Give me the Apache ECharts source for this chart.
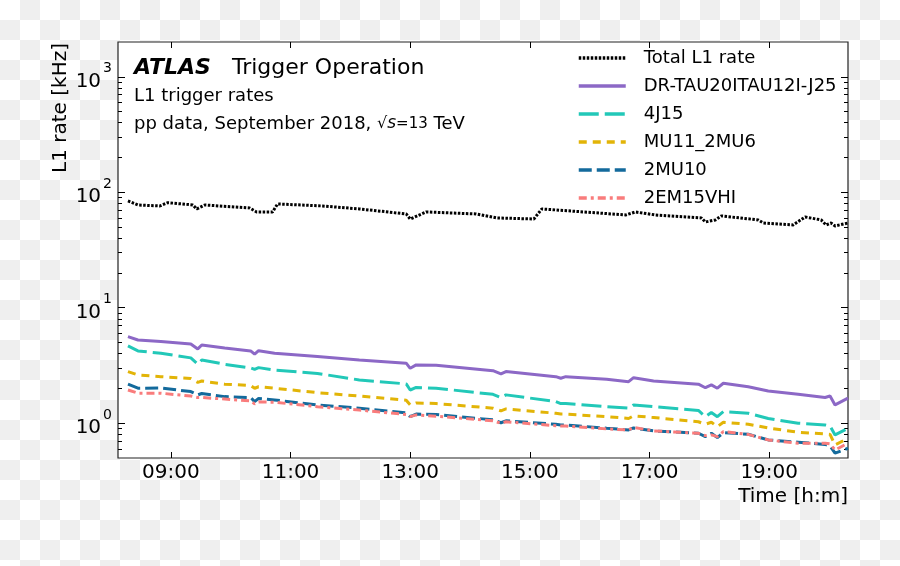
<!DOCTYPE html>
<html>
<head>
<meta charset="UTF-8">
<title>ATLAS L1 trigger rates</title>
<style>
	html, body {
		margin: 0;
		padding: 0;
	}
	body {
		background-color: #fff;
		background-image: conic-gradient(#efefef 25%, #fff 0 50%, #efefef 0 75%, #fff 0);
		background-size: 40px 40px;
	}
	#main {
		width: 900px;
		height: 566px;
	}
</style>
</head>
<body>
<div id="main"></div>
<script src="https://cdn.jsdelivr.net/npm/echarts@6/dist/echarts.min.js"></script>
<script>
	// total L1 rate (kHz)
	var totalTimes = ['08:17', '08:27', '08:49', '08:57', '09:22', '09:26', '09:34', '10:19', '10:26', '10:42',
		'10:47', '11:32', '12:09', '12:56', '13:00', '13:16', '14:06', '14:27', '15:04', '15:12',
		'15:26', '16:36', '16:46', '17:06', '17:52', '17:56', '18:06', '18:12', '18:49', '18:54',
		'19:24', '19:36', '19:52', '19:57', '20:02', '20:06', '20:19'];
	var totalRate = [84.1, 77.6, 76.1, 81.3, 77.6, 71.7, 77.6, 73.1, 67.5, 67.5,
		79.2, 76.1, 71.7, 64.9, 58.7, 67.5, 64.9, 59.9, 58.7, 71.7,
		70.3, 63.6, 67.5, 63.6, 59.9, 55.3, 57.6, 62.4, 57.6, 54.2,
		52.1, 61.1, 57.6, 52.1, 54.2, 51.1, 54.2];

	// individual triggers (kHz), shared time stamps
	var triggerTimes = ['08:17', '08:27', '08:50', '09:20', '09:27', '09:31', '09:54', '10:20', '10:24', '10:28',
		'10:44', '11:27', '12:09', '12:56', '13:00', '13:06', '13:26', '14:23', '14:31', '14:36',
		'15:26', '15:31', '15:36', '16:17', '16:39', '16:44', '17:04', '17:49', '17:56', '18:02',
		'18:08', '18:14', '18:39', '18:59', '19:29', '19:56', '20:01', '20:06', '20:19'];
	var drTau = [5.62, 5.26, 5.09, 4.86, 4.40, 4.76, 4.49, 4.23, 3.96, 4.25,
		4.04, 3.79, 3.53, 3.31, 2.99, 3.20, 3.18, 2.85, 2.67, 2.80,
		2.53, 2.45, 2.53, 2.40, 2.29, 2.48, 2.32, 2.18, 2.03, 2.15,
		2.01, 2.22, 2.07, 1.90, 1.78, 1.67, 1.72, 1.44, 1.65];
	var j4 = [4.67, 4.23, 4.04, 3.68, 3.24, 3.53, 3.24, 3.01, 2.93, 3.03,
		2.89, 2.70, 2.37, 2.19, 1.94, 2.04, 2.01, 1.78, 1.67, 1.76,
		1.54, 1.48, 1.48, 1.39, 1.35, 1.44, 1.39, 1.29, 1.14, 1.24,
		1.14, 1.26, 1.22, 1.10, 1.00, 0.967, 0.948, 0.792, 0.905];
	var mu11 = [2.80, 2.62, 2.53, 2.44, 2.26, 2.32, 2.18, 2.12, 2.01, 2.07,
		2.01, 1.84, 1.72, 1.58, 1.44, 1.50, 1.48, 1.35, 1.28, 1.33,
		1.22, 1.20, 1.20, 1.14, 1.10, 1.16, 1.12, 1.03, 0.98, 1.02,
		0.934, 1.02, 0.98, 0.91, 0.836, 0.808, 0.80, 0.649, 0.741];
	var mu10 = [2.18, 2.01, 2.02, 1.88, 1.76, 1.81, 1.70, 1.67, 1.54, 1.64,
		1.59, 1.44, 1.35, 1.23, 1.14, 1.20, 1.19, 1.07, 1.01, 1.05,
		0.98, 0.967, 0.967, 0.905, 0.875, 0.91, 0.858, 0.819, 0.766, 0.819,
		0.750, 0.829, 0.803, 0.717, 0.685, 0.656, 0.636, 0.550, 0.607];
	var em15 = [1.94, 1.82, 1.82, 1.72, 1.67, 1.67, 1.62, 1.56, 1.47, 1.53,
		1.52, 1.39, 1.30, 1.19, 1.14, 1.18, 1.15, 1.05, 1.00, 1.03,
		0.953, 0.947, 0.947, 0.893, 0.875, 0.920, 0.858, 0.819, 0.781, 0.792,
		0.766, 0.846, 0.80, 0.717, 0.671, 0.671, 0.662, 0.587, 0.671];

	var xTicks = ['09:00', '11:00', '13:00', '15:00', '17:00', '19:00'];
	var xRange = ['08:07', '20:19'];
	var yMajor = [1, 10, 100, 1000];
	var yMinor = [0.6, 0.7, 0.8, 0.9, 2, 3, 4, 5, 6, 7, 8, 9, 20, 30, 40, 50, 60, 70, 80, 90,
		200, 300, 400, 500, 600, 700, 800, 900];
	var yRange = [0.5, 2000];

	function toMin(s) {
		var p = s.split(':');
		return parseInt(p[0], 10) * 60 + parseInt(p[1], 10);
	}
	function fmtMin(v) {
		var h = Math.floor(v / 60), m = Math.round(v - h * 60);
		return (h < 10 ? '0' : '') + h + ':' + (m < 10 ? '0' : '') + m;
	}
	function pairs(times, vals) {
		var out = [];
		for (var i = 0; i < vals.length; i++) {
			out.push([toMin(times[i]), vals[i]]);
		}
		return out;
	}

	var font = 'DejaVu Sans';
	var xTickMin = xTicks.map(toMin);

	function xAxisCfg(pos, labels) {
		return {
			type: 'value',
			position: pos,
			min: toMin(xRange[0]),
			max: toMin(xRange[1]),
			axisLine: { show: false },
			splitLine: { show: false },
			axisTick: {
				show: true, inside: true, length: 6,
				customValues: xTickMin,
				lineStyle: { color: '#000', width: 1 }
			},
			axisLabel: {
				show: labels,
				customValues: xTickMin,
				formatter: fmtMin,
				fontFamily: font,
				fontSize: 20,
				color: '#000',
				margin: 5
			}
		};
	}

	function yAxisCfg(pos, ticks, len, labels) {
		return {
			type: 'log',
			logBase: 10,
			position: pos,
			min: yRange[0],
			max: yRange[1],
			axisLine: { show: false },
			splitLine: { show: false },
			minorTick: { show: false },
			axisTick: {
				show: true, inside: true, length: len,
				customValues: ticks,
				lineStyle: { color: '#000', width: 1 }
			},
			axisLabel: {
				show: labels,
				customValues: ticks,
				margin: 6,
				formatter: function (v) {
					return '{b|10}{s|' + Math.round(Math.log10(v)) + '}';
				},
				rich: {
					b: { fontFamily: font, fontSize: 20, color: '#000', padding: [10, 0, 0, 0], verticalAlign: 'bottom' },
					s: { fontFamily: font, fontSize: 14, color: '#000', verticalAlign: 'top', padding: [0, 0, 0, 2] }
				}
			}
		};
	}

	var myChart = echarts.init(document.getElementById('main'));
	var option = {
		animation: false,
		backgroundColor: 'transparent',
		grid: {
			left: 118, right: 52, top: 42, bottom: 108,
			show: true,
			backgroundColor: '#fff',
			borderColor: '#222',
			borderWidth: 1.2
		},
		legend: {
			orient: 'vertical',
			left: 577,
			top: 49,
			padding: 0,
			itemWidth: 47,
			itemHeight: 18,
			itemGap: 10,
			selectedMode: false,
			itemStyle: { opacity: 0 },
			lineStyle: { width: 3.5 },
			textStyle: { fontFamily: font, fontSize: 18, color: '#000', padding: [0, 0, 0, 13] },
			data: ['Total L1 rate', 'DR-TAU20ITAU12I-J25', '4J15', 'MU11_2MU6', '2MU10', '2EM15VHI']
		},
		xAxis: [xAxisCfg('bottom', true), xAxisCfg('top', false)],
		yAxis: [
			yAxisCfg('left', yMajor, 7, true),
			yAxisCfg('left', yMinor, 4, false),
			yAxisCfg('right', yMajor, 7, false),
			yAxisCfg('right', yMinor, 4, false)
		],
		graphic: [
			{ type: 'text', x: 61, y: 108, rotation: Math.PI / 2,
				style: { text: 'L1 rate [kHz]', fontFamily: font, fontSize: 20, fill: '#000', align: 'center', verticalAlign: 'middle' } },
			{ type: 'text', x: 848, y: 497,
				style: { text: 'Time [h:m]', fontFamily: font, fontSize: 20, fill: '#000', align: 'right', verticalAlign: 'middle' } },
			{ type: 'text', x: 134, y: 68,
				style: { text: 'ATLAS', fontFamily: font, fontSize: 22, fontWeight: 'bold', fontStyle: 'italic', fill: '#000', align: 'left', verticalAlign: 'middle' } },
			{ type: 'text', x: 232, y: 68,
				style: { text: 'Trigger Operation', fontFamily: font, fontSize: 22, fill: '#000', align: 'left', verticalAlign: 'middle' } },
			{ type: 'text', x: 134, y: 96,
				style: { text: 'L1 trigger rates', fontFamily: font, fontSize: 18, fill: '#000', align: 'left', verticalAlign: 'middle' } },
			{ type: 'text', x: 134, y: 124,
				style: {
					text: '{n|pp data, September 2018, }{r|√}{i|s}{m|=13}{n| TeV}',
					align: 'left', verticalAlign: 'middle',
					rich: {
						n: { fontFamily: font, fontSize: 18, fill: '#000' },
						r: { fontFamily: font, fontSize: 16, fill: '#000' },
						i: { fontFamily: font, fontSize: 17, fontStyle: 'italic', fill: '#000' },
						m: { fontFamily: font, fontSize: 15, fill: '#000' }
					}
				} }
		],
		series: [
			{
				name: 'Total L1 rate', type: 'line', symbol: 'none', xAxisIndex: 0, yAxisIndex: 0,
				lineStyle: { color: '#000', width: 3, type: [2.5, 1.5] },
				itemStyle: { color: '#000' },
				data: pairs(totalTimes, totalRate)
			},
			{
				name: 'DR-TAU20ITAU12I-J25', type: 'line', symbol: 'none',
				lineStyle: { color: '#8c68c6', width: 3 },
				itemStyle: { color: '#8c68c6' },
				data: pairs(triggerTimes, drTau)
			},
			{
				name: '4J15', type: 'line', symbol: 'none',
				lineStyle: { color: '#22c8b8', width: 3, type: [20, 6] },
				itemStyle: { color: '#22c8b8' },
				data: pairs(triggerTimes, j4)
			},
			{
				name: 'MU11_2MU6', type: 'line', symbol: 'none',
				lineStyle: { color: '#e2b407', width: 3, type: [8, 6] },
				itemStyle: { color: '#e2b407' },
				data: pairs(triggerTimes, mu11)
			},
			{
				name: '2MU10', type: 'line', symbol: 'none',
				lineStyle: { color: '#136a9c', width: 3, type: [13, 5] },
				itemStyle: { color: '#136a9c' },
				data: pairs(triggerTimes, mu10)
			},
			{
				name: '2EM15VHI', type: 'line', symbol: 'none',
				lineStyle: { color: '#f97c7c', width: 3, type: [8, 4, 3, 4] },
				itemStyle: { color: '#f97c7c' },
				data: pairs(triggerTimes, em15)
			}
		]
	};
	myChart.setOption(option);
</script>
</body>
</html>
